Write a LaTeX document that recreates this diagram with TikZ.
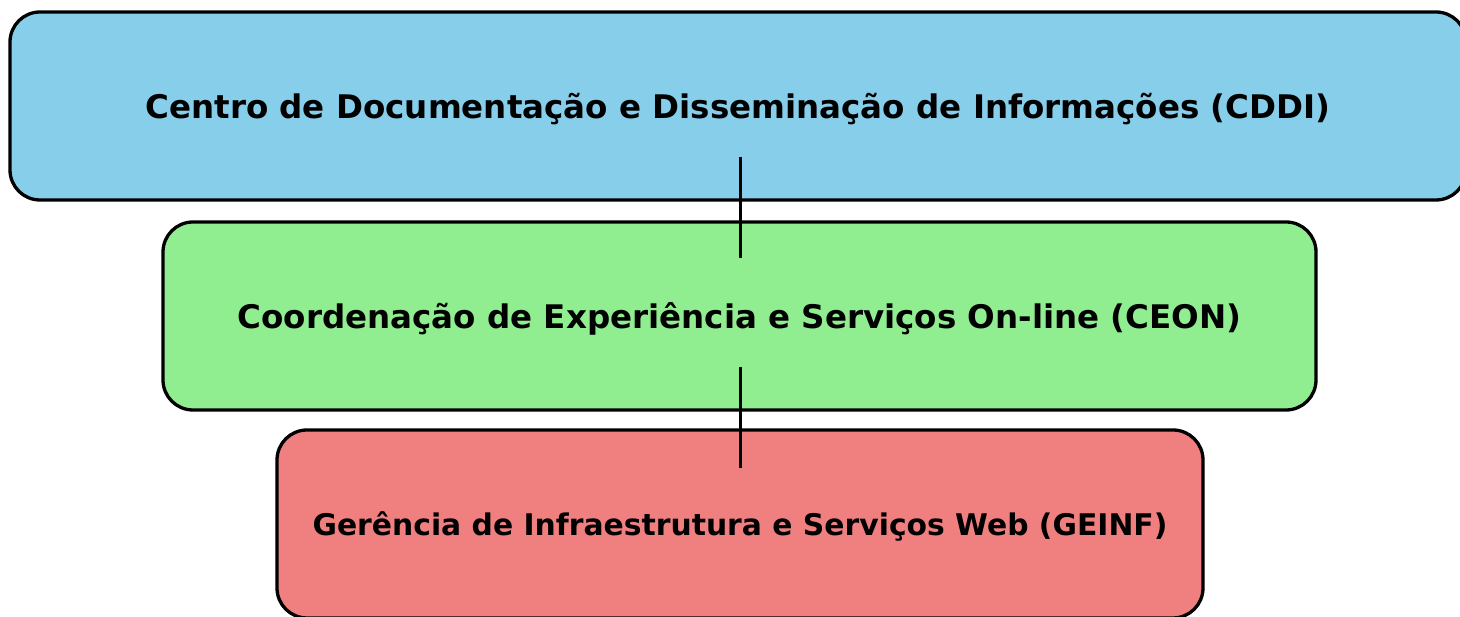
\documentclass[tikz,border=0pt]{standalone}
\usepackage{fontspec}
\setmainfont{DejaVu Sans}
\usepackage{tikz}
\usetikzlibrary{calc}
\definecolor{cddiblue}{HTML}{87CEEB}
\definecolor{ceongreen}{HTML}{90EE90}
\definecolor{geinfred}{HTML}{F08080}
\tikzstyle{unit} = [rectangle, draw, line width=3.3pt, rounded corners=30pt, text centered, text depth=0pt, minimum height=188pt, font=\bfseries]
\tikzstyle{connector} = [line width=3pt]

\begin{document}
\begin{tikzpicture}[x=1pt,y=1pt]
        \useasboundingbox (0,0) rectangle (1460,617);
        \node (cddi) [unit, fill=cddiblue, minimum width=1456pt] at (738,511) {\fontsize{32.5}{38}\selectfont Centro de Documentação e Disseminação de Informações (CDDI)};
        \node (ceon) [unit, fill=ceongreen, minimum width=1153pt] at (739.5,301) {\fontsize{32.5}{38}\selectfont Coordenação de Experiência e Serviços On-line (CEON)};
        \node (geinf) [unit, fill=geinfred, minimum width=926pt] at (740,93) {\fontsize{29.8}{35}\selectfont Gerência de Infraestrutura e Serviços Web (GEINF)};
        \draw [connector] ($(cddi.center)+(2,-51)$) -- ($(ceon.center)+(0.5,58)$);
        \draw [connector] ($(ceon.center)+(0.5,-51)$) -- ($(geinf.center)+(0,56)$);
    \end{tikzpicture}
\end{document}
